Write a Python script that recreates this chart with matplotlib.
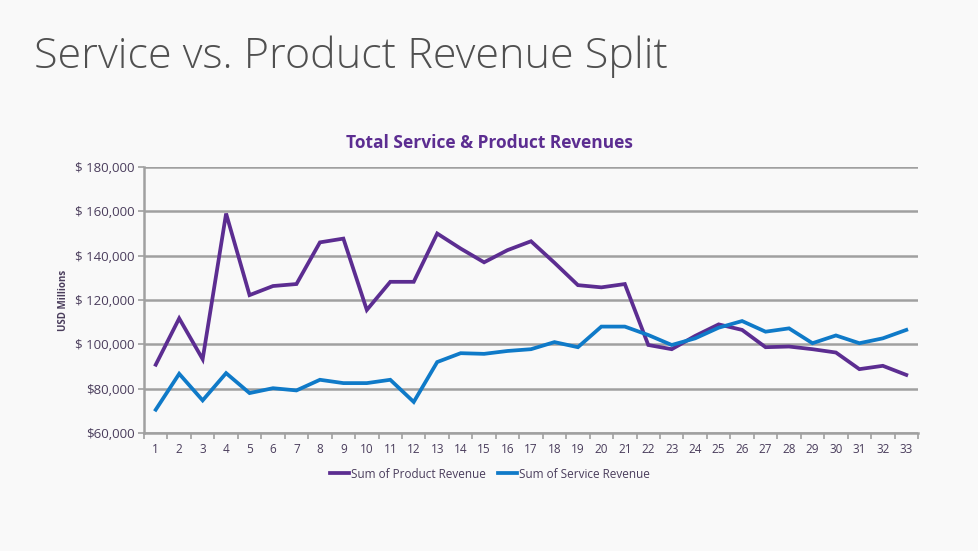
import numpy as np
import matplotlib.pyplot as plt
from matplotlib.ticker import FuncFormatter, MultipleLocator

periods = list(range(1, 34))
product = [90800, 111700, 93300, 159000, 122200, 126300, 127200, 146000, 147700, 115500,
           128200, 128200, 150000, 143200, 137000, 142500, 146500, 136800, 126700, 125700,
           127200, 99700, 97800, 103800, 109000, 106500, 98700, 99000, 97800, 96300,
           88800, 90300, 86200]
service = [70500, 86700, 74700, 87000, 78000, 80200, 79200, 84000, 82500, 82500,
           84000, 74000, 92000, 96000, 95700, 97000, 97800, 101000, 98700, 108000,
           108000, 104200, 99700, 102700, 107500, 110500, 105700, 107200, 100500, 104000,
           100500, 102700, 106500]

bg = '#f9f9f9'
purple = '#5c2d91'
blue = '#0f7ac8'
grid = '#a0a0a0'
label_col = '#4a3d5c'

plt.rcParams['font.family'] = ['Open Sans', 'DejaVu Sans']

fig = plt.figure(figsize=(9.79, 5.51), dpi=100, facecolor=bg)
ax = fig.add_axes([0.1471, 0.2142, 0.7906, 0.4827], facecolor=bg)

ax.plot(periods, product, color=purple, lw=2.7, label='Sum of Product Revenue', solid_joinstyle='miter')
ax.plot(periods, service, color=blue, lw=2.7, label='Sum of Service Revenue', solid_joinstyle='miter')

ax.set_xlim(0.5, 33.5)
ax.set_ylim(60000, 180000)
ax.set_xticks(periods)
ax.xaxis.set_minor_locator(MultipleLocator(1, offset=0.5))
ax.tick_params(axis='x', which='major', length=0, labelsize=8.5, labelcolor=label_col, pad=7)
ax.tick_params(axis='x', which='minor', length=4, color=grid, width=1.2)
ax.yaxis.set_major_locator(MultipleLocator(20000))
ax.yaxis.set_major_formatter(FuncFormatter(lambda v, p: '$ {:,.0f}'.format(v) if v > 90000 else '${:,.0f}'.format(v)))
ax.tick_params(axis='y', length=4, color=grid, width=1.2, labelsize=9.5, labelcolor=label_col, pad=3)
ax.grid(axis='y', color=grid, lw=1.8)
ax.set_axisbelow(True)
for s in ['top', 'right']:
    ax.spines[s].set_visible(False)
for s in ['left', 'bottom']:
    ax.spines[s].set_color(grid)
    ax.spines[s].set_linewidth(1.8)

ax.set_ylabel('USD Millions', fontsize=7, fontweight='bold', color=label_col, labelpad=4)
ax.yaxis.set_label_coords(-0.097, 0.5)

fig.text(0.5, 0.74, 'Total Service & Product Revenues', fontsize=12.5, fontweight='bold',
         color=purple, ha='center', va='center')

leg = ax.legend(loc='upper center', bbox_to_anchor=(0.447, -0.09), ncol=2, frameon=False,
                fontsize=8.5, handlelength=1.6, handletextpad=0.2, columnspacing=1.0)
for t in leg.get_texts():
    t.set_color(label_col)

fig.text(0.035, 0.897, 'Service vs. Product Revenue Split', fontsize=31, color='#505050',
         fontweight='light', va='center', ha='left')

fig.savefig('out.png', dpi=100, facecolor=bg)
